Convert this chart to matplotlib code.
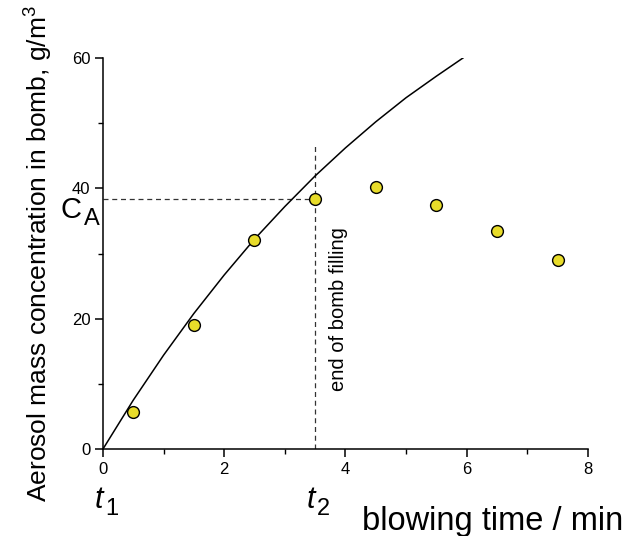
import matplotlib
matplotlib.use("Agg")
import matplotlib.pyplot as plt
from matplotlib.ticker import MultipleLocator

plt.rcParams["font.family"] = ["Liberation Sans", "DejaVu Sans"]
plt.rcParams["mathtext.fontset"] = "custom"
plt.rcParams["mathtext.rm"] = "Liberation Sans"
plt.rcParams["mathtext.it"] = "Liberation Sans:italic"

# measured points
t_meas = [0.5, 1.5, 2.5, 3.5, 4.5, 5.5, 6.5, 7.5]
c_meas = [5.7, 19.0, 32.0, 38.4, 40.2, 37.5, 33.4, 29.0]

# filling curve
t_curve = [0.0, 0.5, 1.0, 1.5, 2.0, 2.5, 3.0, 3.5, 4.0, 4.5, 5.0, 5.5, 5.94]
c_curve = [0.0, 7.5, 14.4, 20.8, 26.7, 32.2, 37.2, 41.9, 46.2, 50.2, 53.9, 57.2, 60.0]

t_end = 3.5
c_a = 38.4
dash_top = 46.9

fig = plt.figure(figsize=(6.26, 5.36), dpi=100)
ax = fig.add_axes([0.1645, 0.1623, 0.7745, 0.7295])

ax.plot(t_curve, c_curve, color="black", lw=1.1, zorder=2)
ax.plot([0, t_end], [c_a, c_a], color="#333333", lw=0.9, ls=(0, (4, 3)), zorder=1)
ax.plot([t_end, t_end], [0, dash_top], color="#333333", lw=0.9, ls=(0, (4, 3)), zorder=1)
ax.plot(t_meas, c_meas, ls="none", marker="o", ms=8.5, mfc="#E8DC2A",
        mec="black", mew=1.0, zorder=3, clip_on=False)

ax.set_xlim(0, 8)
ax.set_ylim(0, 60)
ax.xaxis.set_major_locator(MultipleLocator(2))
ax.xaxis.set_minor_locator(MultipleLocator(1))
ax.yaxis.set_major_locator(MultipleLocator(20))
ax.yaxis.set_minor_locator(MultipleLocator(10))
ax.tick_params(which="major", direction="out", length=6, width=1.1, labelsize=12, pad=3)
ax.tick_params(which="minor", direction="out", length=3.5, width=1.0)
ax.spines["top"].set_visible(False)
ax.spines["right"].set_visible(False)
for s in ("left", "bottom"):
    ax.spines[s].set_linewidth(1.1)

ax.set_ylabel("Aerosol mass concentration in bomb, g/m$^3$", fontsize=19, labelpad=12)
fig.text(0.995, 0.012, "blowing time / min", fontsize=23.5, ha="right", va="baseline")

# C_A marker label next to the y axis
ax.text(-0.70, 35.4, "C", fontsize=21, ha="left", va="baseline", clip_on=False)
ax.text(-0.32, 34.4, "A", fontsize=17, ha="left", va="baseline", clip_on=False)

# t1 / t2 under the x axis
for tx, sub in [(-0.14, "1"), (3.36, "2")]:
    ax.text(tx, -9.05, "t", fontsize=22, style="italic", ha="left", va="baseline",
            clip_on=False)
    ax.text(tx + 0.17, -10.1, sub, fontsize=17, ha="left", va="baseline", clip_on=False)

ax.text(3.88, 21.5, "end of bomb filling", fontsize=14.5, rotation=90,
        ha="center", va="center")

fig.savefig("out.png", dpi=100)
